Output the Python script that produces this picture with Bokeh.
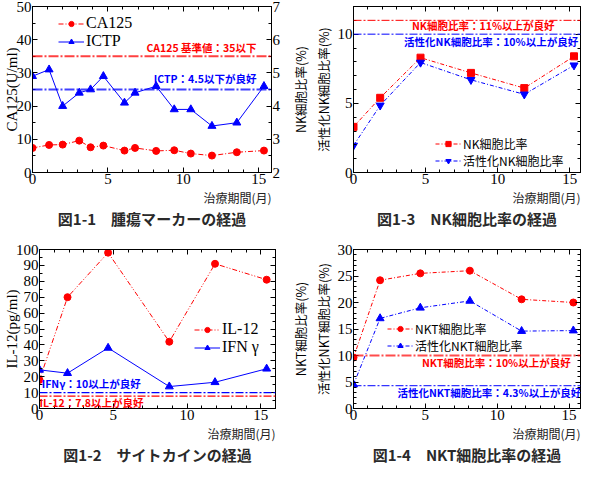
from bokeh.plotting import figure
from bokeh.models import (Range1d, LinearAxis, Span, Label, Title, SingleIntervalTicker)
from bokeh.layouts import column, row
from bokeh.embed import file_html
from bokeh.resources import INLINE

SERIF = "Liberation Serif"
JP = "Noto Sans CJK JP"
RED = "#ff0000"
BLUE = "#0000ff"

# ---------------- data ----------------
# 図1-1 腫瘍マーカー
months_11 = [0, 1.1, 2.0, 3.1, 3.85, 4.7, 6.1, 6.8, 8.2, 9.4, 10.5, 11.9, 13.55, 15.35]
ca125 = [7.4, 8.3, 8.4, 9.6, 7.6, 8.1, 6.6, 7.4, 6.5, 6.7, 5.7, 5.1, 6.1, 6.6]
ictp = [4.9, 5.1, 4.0, 4.4, 4.5, 4.9, 4.1, 4.4, 4.6, 3.9, 3.9, 3.4, 3.5, 4.6]
ca125_ref = 35
ictp_ref = 4.5

# 図1-2 サイトカイン
months_12 = [0, 1.9, 4.65, 8.8, 11.9, 15.4]
il12 = [18.0, 70.0, 98.0, 42.0, 91.0, 81.0]
ifng = [24.3, 22.2, 38.1, 13.8, 16.5, 25.0]
ifng_ref = 10
il12_ref = 7.8

# 図1-3 NK細胞比率
months_13 = [0, 1.85, 4.65, 8.15, 11.85, 15.3]
nk = [3.3, 5.4, 8.3, 7.2, 6.1, 8.4]
act_nk = [1.95, 4.85, 7.95, 6.7, 5.65, 7.75]
nk_ref = 11
act_nk_ref = 10

# 図1-4 NKT細胞比率
months_14 = [0, 1.85, 4.65, 8.1, 11.7, 15.3]
nkt = [9.6, 24.2, 25.5, 26.0, 20.6, 20.0]
act_nkt = [4.5, 17.0, 19.0, 20.3, 14.6, 14.7]
nkt_ref = 10
act_nkt_ref = 4.3

x_label = "治療期間(月)"


def tick_style(ax, labels=True, size="15px"):
    ax.axis_line_color = "black"
    ax.major_tick_in = 5
    ax.major_tick_out = 0
    ax.minor_tick_in = 3
    ax.minor_tick_out = 0
    ax.major_tick_line_color = "black"
    ax.minor_tick_line_color = "black"
    if labels:
        ax.major_label_text_font = SERIF
        ax.major_label_text_font_size = size
        ax.major_label_text_color = "black"
        ax.major_label_standoff = 1
    else:
        ax.major_label_text_font_size = "0px"
        ax.major_label_text_color = None
        ax.major_label_standoff = 0


def make_fig(w, h, xmax, ylo, yhi, yint, yminor, left, right, top, ylabel, ylabel_font,
             ylabel_size, ylabel_standoff, caption, right_labels=False):
    p = figure(width=w, height=h, x_range=Range1d(0, xmax), y_range=Range1d(ylo, yhi),
               output_backend="svg", toolbar_location=None,
               min_border_left=left, min_border_right=right, min_border_top=top,
               min_border_bottom=0)
    p.xgrid.visible = False
    p.ygrid.visible = False
    p.outline_line_color = "black"
    xa = p.xaxis[0]
    ya = p.yaxis[0]
    xa.ticker = SingleIntervalTicker(interval=5, num_minor_ticks=5)
    ya.ticker = SingleIntervalTicker(interval=yint, num_minor_ticks=yminor)
    tick_style(xa)
    tick_style(ya)
    ya.axis_label = ylabel
    ya.axis_label_text_font = ylabel_font
    ya.axis_label_text_font_size = ylabel_size
    ya.axis_label_text_font_style = "normal"
    ya.axis_label_text_color = "black"
    ya.axis_label_standoff = ylabel_standoff

    top_ax = LinearAxis(ticker=SingleIntervalTicker(interval=5, num_minor_ticks=5))
    tick_style(top_ax, labels=False)
    p.add_layout(top_ax, "above")
    if not right_labels:
        r_ax = LinearAxis(ticker=SingleIntervalTicker(interval=yint, num_minor_ticks=yminor))
        tick_style(r_ax, labels=False)
        p.add_layout(r_ax, "right")

    p.add_layout(Title(text=x_label, align="right", text_font=JP, text_font_size="12px",
                       text_font_style="normal", text_color="#222222", standoff=0, offset=0),
                 "below")
    p.add_layout(Title(text=caption, align="center", text_font=JP, text_font_size="15px",
                       text_font_style="bold", text_color="#2a2a2a", standoff=0, offset=0),
                 "below")
    return p


def ref_label(p, x, y, text, color, align="center", baseline="middle", **kw):
    p.add_layout(Label(x=x, y=y, text=text, text_align=align, text_baseline=baseline,
                       text_font=JP, text_font_size="10.5px", text_font_style="bold",
                       text_color=color, **kw))


def legend_style(p, font, size, loc):
    lg = p.legend[0]
    lg.location = loc
    lg.border_line_color = None
    lg.background_fill_alpha = 0
    lg.label_text_font = font
    lg.label_text_font_size = size
    lg.label_text_color = "black"
    lg.glyph_width = 26
    lg.glyph_height = 13
    lg.label_height = 13
    lg.spacing = 0
    lg.padding = 2
    lg.label_standoff = 2


LW = 287
RW = 295
TH = 228
BH = 236

# ---------- 図1-1 ----------
p1 = make_fig(LW, TH, 15.85, 0, 50, 10, 2, 27, 16, 6, "CA125(U/ml)", SERIF, "15px", -6,
              "図1-1　腫瘍マーカーの経過", right_labels=True)
p1.extra_y_ranges = {"ictp": Range1d(2, 7)}
rax = LinearAxis(y_range_name="ictp", ticker=SingleIntervalTicker(interval=1, num_minor_ticks=2))
tick_style(rax)
p1.add_layout(rax, "right")
p1.add_layout(Span(location=ca125_ref, dimension="width", line_color=RED, line_alpha=0.75,
                   line_width=2, line_dash="10 2 2 2"))
p1.add_layout(Span(location=ictp_ref, dimension="width", line_color=BLUE, line_alpha=0.75,
                   line_width=2, line_dash="10 2 2 2", y_range_name="ictp"))
ref_label(p1, 14.85, 37.7, "CA125 基準値：35以下", RED, align="right")
ref_label(p1, 14.85, 4.82, "ICTP：4.5以下が良好", BLUE, align="right", y_range_name="ictp")
p1.line(months_11, ca125, line_color=RED, line_width=1, line_dash="5 2 1 2", legend_label="CA125")
p1.scatter(months_11, ca125, marker="circle", size=7, color=RED, legend_label="CA125")
p1.line(months_11, ictp, line_color=BLUE, line_width=1, y_range_name="ictp", legend_label="ICTP")
p1.scatter(months_11, ictp, marker="triangle", size=8, color=BLUE, y_range_name="ictp",
           legend_label="ICTP")
legend_style(p1, SERIF, "16px", (26, 122))

# ---------- 図1-3 ----------
p3 = make_fig(RW, TH, 15.75, 0, 12, 5, 5, 51, 2, 0,
              "NK細胞比率(%)\n活性化NK細胞比率(%)", JP, "12.5px", 2,
              "図1-3　NK細胞比率の経過")
p3.add_layout(Span(location=nk_ref, dimension="width", line_color=RED, line_width=1,
                   line_dash="8 2 2 2"))
p3.add_layout(Span(location=act_nk_ref, dimension="width", line_color=BLUE, line_width=1,
                   line_dash="8 2 2 2"))
ref_label(p3, 9.0, 10.63, "NK細胞比率：11%以上が良好", RED)
ref_label(p3, 9.55, 9.5, "活性化NK細胞比率：10%以上が良好", BLUE)
p3.line(months_13, nk, line_color=RED, line_width=1, line_dash="4 2 1 2", legend_label="NK細胞比率")
p3.scatter(months_13, nk, marker="square", size=7, color=RED, legend_label="NK細胞比率")
p3.line(months_13, act_nk, line_color=BLUE, line_width=1, line_dash="4 2 1 2",
        legend_label="活性化NK細胞比率")
p3.scatter(months_13, act_nk, marker="inverted_triangle", size=8, color=BLUE,
           legend_label="活性化NK細胞比率")
legend_style(p3, JP, "12px", (82, 3))

# ---------- 図1-2 ----------
p2 = make_fig(LW, BH, 16, 0, 100, 10, 2, 28, 12, 20, "IL-12(pg/ml)", SERIF, "15px", -7,
              "図1-2　サイトカインの経過")
p2.add_layout(Span(location=ifng_ref, dimension="width", line_color=BLUE, line_width=1.2,
                   line_dash="8 2 2 2"))
p2.add_layout(Span(location=il12_ref, dimension="width", line_color=RED, line_width=1.2,
                   line_dash="8 2 2 2"))
ref_label(p2, 0.15, 10.8, "IFNγ：10以上が良好", BLUE, align="left", baseline="bottom")
ref_label(p2, 0.0, 3.6, "IL-12：7.8以上が良好", RED, align="left")
p2.line(months_12, il12, line_color=RED, line_width=1, line_dash="5 2 1 2 1 2", legend_label="IL-12")
p2.scatter(months_12, il12, marker="circle", size=7, color=RED, legend_label="IL-12")
p2.line(months_12, ifng, line_color=BLUE, line_width=1, legend_label="IFN γ")
p2.scatter(months_12, ifng, marker="triangle", size=8, color=BLUE, legend_label="IFN γ")
legend_style(p2, SERIF, "16px", (155, 52))

# ---------- 図1-4 ----------
p4 = make_fig(RW, BH, 15.8, 0, 30, 5, 5, 51, 2, 21,
              "NKT細胞比率(%)\n活性化NKT細胞比率(%)", JP, "12.5px", 2,
              "図1-4　NKT細胞比率の経過")
p4.add_layout(Span(location=nkt_ref, dimension="width", line_color=RED, line_alpha=0.7,
                   line_width=2, line_dash="10 2 2 2"))
p4.add_layout(Span(location=act_nkt_ref, dimension="width", line_color=BLUE, line_width=1,
                   line_dash="8 2 2 2"))
ref_label(p4, 9.94, 8.6, "NKT細胞比率：10%以上が良好", RED)
ref_label(p4, 9.45, 3.07, "活性化NKT細胞比率：4.3%以上が良好", BLUE)
p4.line(months_14, nkt, line_color=RED, line_width=1, line_dash="4 2 1 2", legend_label="NKT細胞比率")
p4.scatter(months_14, nkt, marker="circle", size=7, color=RED, legend_label="NKT細胞比率")
p4.line(months_14, act_nkt, line_color=BLUE, line_width=1, line_dash="4 2 1 2",
        legend_label="活性化NKT細胞比率")
p4.scatter(months_14, act_nkt, marker="triangle", size=8, color=BLUE, legend_label="活性化NKT細胞比率")
legend_style(p4, JP, "12px", (34, 54))

layout = column(row(p1, p3), row(p2, p4))
open("out.html", "w").write(file_html(layout, INLINE))
